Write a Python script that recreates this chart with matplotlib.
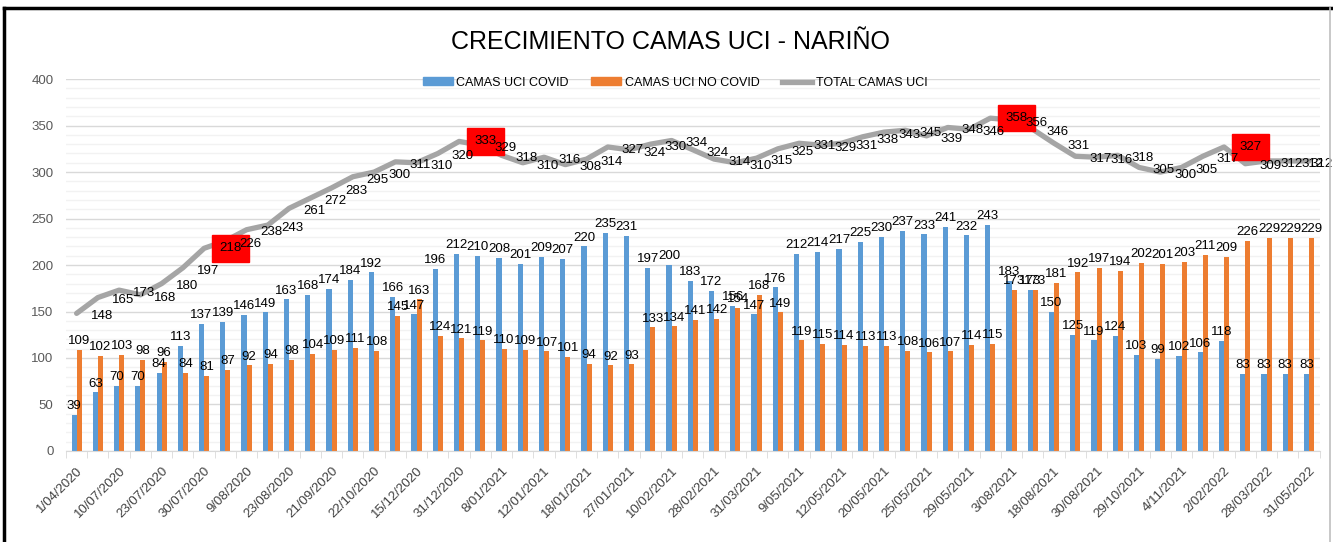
import numpy as np
import matplotlib.pyplot as plt
from matplotlib.patches import Rectangle
from matplotlib.lines import Line2D

plt.rcParams['font.family'] = ['Liberation Sans', 'DejaVu Sans']

fechas = ['1/04/2020', '', '10/07/2020', '', '23/07/2020', '', '30/07/2020', '', '9/08/2020', '',
          '23/08/2020', '', '21/09/2020', '', '22/10/2020', '', '15/12/2020', '', '31/12/2020', '',
          '8/01/2021', '', '12/01/2021', '', '18/01/2021', '', '27/01/2021', '', '10/02/2021', '',
          '28/02/2021', '', '31/03/2021', '', '9/05/2021', '', '12/05/2021', '', '20/05/2021', '',
          '25/05/2021', '', '29/05/2021', '', '3/08/2021', '', '18/08/2021', '', '30/08/2021', '',
          '29/10/2021', '', '4/11/2021', '', '2/02/2022', '', '28/03/2022', '', '31/05/2022']

covid = [39, 63, 70, 70, 84, 113, 137, 139, 146, 149, 163, 168, 174, 184, 192, 166, 147, 196,
         212, 210, 208, 201, 209, 207, 220, 235, 231, 197, 200, 183, 172, 156, 147, 176, 212,
         214, 217, 225, 230, 237, 233, 241, 232, 243, 183, 173, 150, 125, 119, 124, 103, 99,
         102, 106, 118, 83, 83, 83, 83]
no_covid = [109, 102, 103, 98, 96, 84, 81, 87, 92, 94, 98, 104, 109, 111, 108, 145, 163, 124,
            121, 119, 110, 109, 107, 101, 94, 92, 93, 133, 134, 141, 142, 154, 168, 149, 119,
            115, 114, 113, 113, 108, 106, 107, 114, 115, 173, 173, 181, 192, 197, 194, 202, 201,
            203, 211, 209, 226, 229, 229, 229]
total = [148, 165, 173, 168, 180, 197, 218, 226, 238, 243, 261, 272, 283, 295, 300, 311, 310, 320,
         333, 329, 318, 310, 316, 308, 314, 327, 324, 330, 334, 324, 314, 310, 315, 325, 331,
         329, 331, 338, 343, 345, 339, 348, 346, 358, 356, 346, 331, 317, 316, 318, 305, 300,
         305, 317, 327, 309, 312, 312, 312]
destacados = [6, 18, 43, 54]

azul = '#5B9BD5'
naranja = '#ED7D31'
gris = '#A5A5A5'

fig = plt.figure(figsize=(13.33, 5.42), dpi=100)
ax = fig.add_axes([0.0495, 0.168, 0.9405, 0.686])

x = np.arange(len(covid))
w = 0.24
ax.bar(x - w / 2, covid, w, color=azul, zorder=2)
ax.bar(x + w / 2, no_covid, w, color=naranja, zorder=2)
ax.plot(x, total, color=gris, lw=3.8, zorder=3, solid_capstyle='round')

fs = 9.5
n = len(x)
for i in range(n):
    ax.annotate(str(covid[i]), (x[i] - w / 2, covid[i]), xytext=(0, 2), textcoords='offset points',
                ha='center', va='bottom', fontsize=fs, zorder=4)
    ax.annotate(str(no_covid[i]), (x[i] + w / 2, no_covid[i]), xytext=(0, 2), textcoords='offset points',
                ha='center', va='bottom', fontsize=fs, zorder=4)
    if i in destacados:
        ax.annotate(str(total[i]), (x[i], total[i]), xytext=(11, 0), textcoords='offset points',
                    ha='left', va='center', fontsize=fs, zorder=4.5,
                    bbox=dict(boxstyle='square,pad=0.55', fc='red', ec='red'))
    else:
        # la ultima etiqueta se corre a la izquierda para que quepa, como en excel
        dx = 10 if i < n - 1 else 1
        ax.annotate(str(total[i]), (x[i], total[i]), xytext=(dx, -2), textcoords='offset points',
                    ha='left', va='center', fontsize=fs, zorder=5)

ax.set_xlim(-0.5, n - 0.5)
ax.set_ylim(0, 400)
ax.set_yticks(np.arange(0, 401, 50))
ax.set_yticks(np.arange(0, 401, 10), minor=True)
ax.grid(axis='y', which='major', color='#D9D9D9', lw=1, zorder=0)
ax.grid(axis='y', which='minor', color='#F2F2F2', lw=1, zorder=0)
ax.set_axisbelow(True)

ax.set_xticks(x[::2])
ax.set_xticklabels(fechas[::2], rotation=45, ha='right', rotation_mode='anchor')
ax.set_xticks(np.arange(-0.5, n, 1), minor=True)
ax.tick_params(axis='x', which='major', length=0, pad=10, labelsize=9.5, labelcolor='#404040')
ax.tick_params(axis='x', which='minor', length=5, color='#D9D9D9')
ax.tick_params(axis='y', which='both', length=0, pad=9, labelsize=9.5, labelcolor='#595959')

for s in ['top', 'right', 'left']:
    ax.spines[s].set_visible(False)
ax.spines['bottom'].set_color('#D9D9D9')

handles = [Rectangle((0, 0), 1, 1, color=azul), Rectangle((0, 0), 1, 1, color=naranja),
           Line2D([0], [0], color=gris, lw=3.8)]
ax.legend(handles, ['CAMAS UCI COVID', 'CAMAS UCI NO COVID', 'TOTAL CAMAS UCI'],
          loc='center', bbox_to_anchor=(0.486, 0.99), ncol=3, frameon=False, fontsize=9,
          handlelength=2.4, handleheight=0.6, columnspacing=1.8, handletextpad=0.3)

fig.text(0.503, 0.922, 'CRECIMIENTO CAMAS UCI - NARIÑO', ha='center', va='center', fontsize=18)

# marco de la imagen
fig.add_artist(Line2D([0.003, 1], [0.985, 0.985], color='black', lw=2.5, transform=fig.transFigure))
fig.add_artist(Line2D([0.003, 0.003], [0, 0.985], color='black', lw=2.5, transform=fig.transFigure))
fig.add_artist(Line2D([0.9975, 0.9975], [0, 0.985], color='#BFBFBF', lw=1.2, transform=fig.transFigure))

plt.savefig('out.png', dpi=100)
